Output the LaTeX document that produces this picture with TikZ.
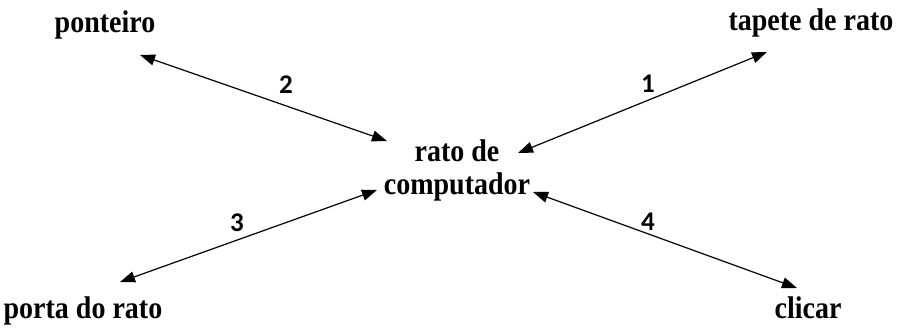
\documentclass[tikz,border=0pt]{standalone}
\usepackage{fontspec}
\setmainfont{Liberation Serif}
\newfontfamily\numfont{Carlito}
\usetikzlibrary{arrows.meta}
\newcommand{\tall}[1]{\scalebox{1}[1.12]{#1}}
\tikzset{
  lbl/.style={font=\fontsize{28}{33}\selectfont\bfseries, inner sep=0pt, anchor=base},
  num/.style={font=\numfont\fontsize{27}{31}\selectfont\bfseries, inner sep=0pt},
  conn/.style={line width=1.2pt, {Triangle[length=15pt,width=11pt]}-{Triangle[length=15pt,width=11pt]}}
}
\begin{document}
\begin{tikzpicture}[x=1pt,y=-1pt]
\useasboundingbox (0,0) rectangle (898,329);
\node[lbl] (ponteiro) at (105,33) {\tall{ponteiro}};
\node[lbl] (tapete) at (811,31) {\tall{tapete de rato}};
\node[lbl] (porta) at (83,318) {\tall{porta do rato}};
\node[lbl] (clicar) at (808,318) {\tall{clicar}};
\node[font=\fontsize{28}{33}\selectfont\bfseries, inner sep=0pt, align=center] (rato) at (457,170) {\tall{rato de}\\\tall{computador}};
\coordinate (t2a) at (140,55);
\coordinate (t2b) at (387,141);
\coordinate (t1a) at (767,52);
\coordinate (t1b) at (518,153);
\coordinate (t3a) at (120,282);
\coordinate (t3b) at (377,190);
\coordinate (t4a) at (533,192);
\coordinate (t4b) at (797,288);
\draw[conn] (t2a) -- (t2b);
\draw[conn] (t1a) -- (t1b);
\draw[conn] (t3a) -- (t3b);
\draw[conn] (t4a) -- (t4b);
\node[num] (n2) at (286,85) {2};
\node[num] (n1) at (648,84) {1};
\node[num] (n3) at (237,223) {3};
\node[num] (n4) at (648,222) {4};
\end{tikzpicture}
\end{document}
